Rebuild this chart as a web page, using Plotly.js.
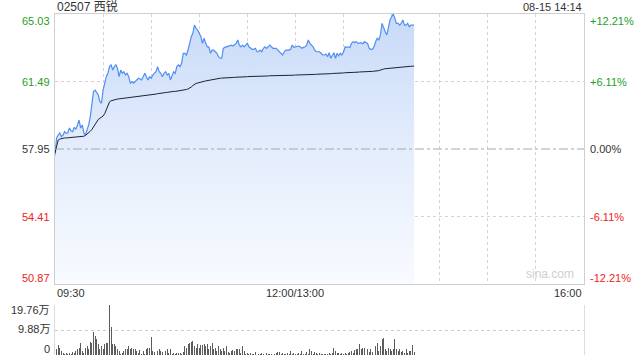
<!DOCTYPE html>
<html>
<head>
<meta charset="utf-8">
<script src="https://cdn.plot.ly/plotly-3.0.1.min.js"></script>
<style>html,body{margin:0;padding:0;background:#fff;}#chart{width:640px;height:360px;}</style>
</head>
<body>
<div id="chart"></div>
<script>
// ---- data ----
const stockTitle = "02507 西锐";
const stamp = "08-15 14:14";
const prevClose = 57.95;
const priceTicks = [65.03, 61.49, 57.95, 54.41, 50.87];
const pctTicks = ["+12.21%", "+6.11%", "0.00%", "-6.11%", "-12.21%"];
const timeTickVals = [0, 150, 330];           // minutes of trading since 09:30
const timeTickText = ["09:30", "12:00/13:00", "16:00"];
const volTicks = [19.76, 9.88, 0];
const volTickText = ["19.76万", "9.88万", "0"];

// one value per trading minute from 09:30 to 14:14
const price = [
57.63,58.53,58.68,58.79,58.60,58.68,58.86,58.77,58.80,59.05,
58.91,58.86,59.09,58.98,59.21,59.47,59.05,59.21,58.79,58.68,
58.95,59.21,59.64,60.35,60.96,61.04,60.90,60.78,60.43,60.35,
61.04,61.40,61.74,61.92,62.27,62.36,62.09,62.27,62.36,62.18,
61.74,62.09,61.92,62.00,61.83,61.92,61.74,61.40,61.48,61.40,
61.48,61.57,61.66,61.62,61.57,61.74,61.92,61.74,61.57,61.74,
61.66,61.83,61.92,62.00,62.27,62.00,61.92,61.74,61.92,62.00,
61.83,61.92,61.57,61.83,62.00,61.92,62.27,62.36,62.27,62.44,
62.97,62.97,62.88,63.14,63.58,63.84,64.02,64.45,64.28,64.19,
64.02,63.84,63.49,63.76,63.49,63.31,63.31,62.97,63.14,63.14,
63.05,62.97,62.79,62.71,62.71,63.23,63.28,63.31,63.33,63.35,
63.40,63.35,63.40,63.49,63.67,63.40,63.31,63.40,63.31,63.40,
63.49,63.31,63.23,63.18,63.18,63.23,63.05,63.05,63.14,63.05,
63.23,63.31,63.23,63.31,63.40,63.31,63.23,63.23,63.23,63.14,
63.05,62.97,62.88,63.05,63.14,63.14,63.14,63.18,63.40,63.28,
63.31,63.31,63.35,63.31,63.23,63.28,63.31,63.40,63.67,63.49,
63.40,63.31,63.14,63.05,63.05,63.05,62.97,62.88,62.88,62.93,
62.79,63.00,62.71,62.88,63.00,62.71,62.97,62.83,62.97,62.88,
63.05,63.31,63.28,63.31,63.28,63.49,63.58,63.53,63.58,63.49,
63.53,63.53,63.46,63.58,63.53,63.49,63.23,63.18,63.18,63.31,
63.58,63.76,63.67,63.93,64.54,64.28,64.10,63.93,64.28,64.72,
64.89,65.03,64.80,64.54,64.54,64.45,64.54,64.72,64.45,64.45,
64.54,64.36,64.45,64.45,64.45
];
const avgPrice = [
57.74,58.11,58.42,58.47,58.50,58.52,58.53,58.53,58.54,58.54,
58.55,58.55,58.56,58.56,58.57,58.58,58.59,58.60,58.62,58.66,
58.72,58.80,58.88,58.97,59.12,59.25,59.42,59.50,59.56,59.62,
59.68,59.80,60.04,60.30,60.42,60.48,60.51,60.54,60.56,60.57,
60.58,60.59,60.60,60.60,60.61,60.62,60.63,60.64,60.66,60.67,
60.69,60.70,60.71,60.72,60.73,60.74,60.75,60.76,60.77,60.78,
60.79,60.80,60.81,60.83,60.85,60.87,60.88,60.89,60.90,60.91,
60.92,60.94,60.95,60.96,60.97,60.97,60.98,60.99,61.00,61.00,
61.01,61.04,61.07,61.10,61.13,61.20,61.28,61.36,61.39,61.41,
61.44,61.46,61.48,61.50,61.52,61.54,61.55,61.57,61.59,61.61,
61.62,61.63,61.65,61.66,61.67,61.67,61.68,61.68,61.69,61.69,
61.70,61.70,61.71,61.71,61.72,61.72,61.73,61.73,61.74,61.74,
61.74,61.75,61.75,61.75,61.76,61.76,61.76,61.77,61.77,61.77,
61.77,61.78,61.78,61.78,61.79,61.79,61.79,61.79,61.80,61.80,
61.80,61.80,61.81,61.81,61.81,61.81,61.82,61.82,61.82,61.82,
61.83,61.83,61.83,61.83,61.84,61.84,61.84,61.85,61.85,61.85,
61.86,61.86,61.86,61.87,61.87,61.87,61.88,61.88,61.88,61.89,
61.89,61.90,61.90,61.91,61.91,61.92,61.92,61.93,61.93,61.94,
61.94,61.95,61.95,61.95,61.96,61.96,61.97,61.97,61.98,61.98,
61.99,61.99,62.00,62.00,62.01,62.01,62.02,62.02,62.02,62.03,
62.03,62.04,62.06,62.09,62.13,62.14,62.16,62.17,62.18,62.20,
62.21,62.22,62.23,62.24,62.24,62.25,62.26,62.26,62.27,62.27,
62.28,62.28,62.29,62.29,62.30
];
// volume in 万 shares per minute
const volume = [
2.8,2.2,3.8,2.8,1.5,0.8,0.5,0.6,0.5,0.8,
0.5,1.1,0.8,1.5,2.2,2.8,4.9,1.5,0.8,2.8,
3.5,2.2,5.3,4.9,8.9,7.6,6.2,4.2,2.2,3.5,
2.2,4.2,4.9,4.9,19.76,11.0,4.2,4.2,3.5,2.2,
1.5,0.5,0.8,1.5,2.2,2.4,3.5,2.4,2.8,2.2,
2.4,1.5,0.8,1.9,0.5,1.5,0.5,2.2,2.8,2.8,
7.3,1.5,1.1,2.8,1.5,2.2,1.5,1.1,2.2,1.5,
2.4,0.8,2.2,0.5,0.8,0.5,0.8,0.6,0.8,0.5,
1.1,3.5,2.8,4.2,4.9,5.1,5.5,3.5,2.8,4.2,
2.8,3.8,3.8,4.2,3.5,4.2,2.2,3.5,4.9,2.2,
2.8,1.5,3.5,2.2,1.5,2.8,1.5,3.5,1.2,0.8,
1.5,1.9,1.5,2.2,2.2,2.4,0.8,3.5,1.5,0.5,
0.8,0.5,0.8,0.5,0.5,1.1,0.5,0.3,0.5,0.8,
0.5,0.5,0.8,0.3,0.5,0.5,0.8,0.5,0.8,1.1,
1.1,0.5,0.8,0.5,0.5,0.8,0.5,1.5,0.5,0.8,
0.5,0.3,0.8,0.5,1.5,0.5,0.5,1.1,0.5,2.2,
1.5,0.5,1.1,0.8,0.5,0.8,0.5,0.5,0.5,0.3,
0.5,0.8,0.5,0.8,2.6,1.5,0.8,0.8,0.5,0.8,
0.5,0.8,0.5,0.8,1.1,1.5,0.8,1.9,2.2,2.2,
4.2,2.2,2.8,2.8,1.5,2.2,1.1,2.4,1.1,2.2,
3.5,4.9,1.5,3.5,6.5,6.9,2.2,1.5,2.8,2.2,
1.5,2.2,6.2,2.4,1.5,2.2,1.1,1.5,0.8,2.2,
0.8,1.5,1.5,4.0,1.1
];
const minutes = price.map((_, i) => i);
const floorLine = price.map(() => priceTicks[4]);

// ---- chart ----
const FONT = "Liberation Sans, Arial, Noto Sans CJK SC, sans-serif";
const green = "#1f9e1f", red = "#ee2222", dark = "#333333";
const labelColor = v => v > prevClose ? green : (v < prevClose ? red : dark);

const traces = [
  {
    x: minutes, y: floorLine, type: "scatter", mode: "lines",
    line: {width: 0, color: "rgba(0,0,0,0)"}, xaxis: "x", yaxis: "y", hoverinfo: "skip"
  },
  {
    x: minutes, y: price, type: "scatter", mode: "lines",
    line: {color: "#4f8ef2", width: 1.2},
    fill: "tonexty",
    fillgradient: {type: "vertical", start: priceTicks[4], stop: priceTicks[0],
      colorscale: [[0, "#f8fbff"], [0.5, "#e4edfc"], [1, "#c8daf8"]]},
    xaxis: "x", yaxis: "y", hoverinfo: "skip"
  },
  {
    x: minutes, y: avgPrice, type: "scatter", mode: "lines",
    line: {color: "#1c2433", width: 1},
    xaxis: "x", yaxis: "y", hoverinfo: "skip"
  },
  {
    x: minutes, y: volume, type: "bar", width: 0.6,
    marker: {color: "#5c5c5c", line: {width: 0}},
    xaxis: "x2", yaxis: "y2", hoverinfo: "skip"
  }
];

const mainBottom = 71 / 341;
const volTop = 50 / 341;

const annotations = [];
priceTicks.forEach((v, i) => {
  const shift = i === 0 ? -7 : (i === priceTicks.length - 1 ? 6 : 0);
  annotations.push({xref: "paper", yref: "y", x: 0, y: v, xanchor: "right", yanchor: "middle",
    xshift: -3, yshift: shift, text: v.toFixed(2), showarrow: false,
    font: {family: FONT, size: 11, color: labelColor(v)}});
  annotations.push({xref: "paper", yref: "y", x: 1, y: v, xanchor: "left", yanchor: "middle",
    xshift: 4, yshift: shift, text: pctTicks[i], showarrow: false,
    font: {family: FONT, size: 11, color: labelColor(v)}});
});
timeTickVals.forEach((t, i) => {
  annotations.push({xref: "x", yref: "paper", x: t, y: (355 - 293) / 341, yanchor: "middle",
    xanchor: i === 0 ? "left" : (i === timeTickVals.length - 1 ? "right" : "center"),
    text: timeTickText[i], showarrow: false, font: {family: FONT, size: 11, color: dark}});
});
volTicks.forEach((v, i) => {
  const shift = i === 0 ? -5 : (i === volTicks.length - 1 ? 6 : 1);
  annotations.push({xref: "paper", yref: "y2", x: 0, y: v, xanchor: "right", yanchor: "middle",
    xshift: -3, yshift: shift, text: volTickText[i], showarrow: false,
    font: {family: FONT, size: 11, color: dark}});
});
annotations.push({xref: "paper", yref: "paper", x: 0, y: (355 - 7) / 341, xanchor: "left", yanchor: "middle",
  text: stockTitle, showarrow: false, font: {family: FONT, size: 12, color: dark}});
annotations.push({xref: "paper", yref: "paper", x: 1, y: (355 - 7) / 341, xanchor: "right", yanchor: "middle",
  text: stamp, showarrow: false, font: {family: FONT, size: 11, color: dark}});
annotations.push({xref: "paper", yref: "y", x: 0.985, y: priceTicks[4], xanchor: "right", yanchor: "bottom",
  yshift: 1, text: "sina.com", showarrow: false, font: {family: FONT, size: 12, color: "#cfcfcf"}});

const layout = {
  width: 640, height: 360,
  margin: {l: 55, r: 56, t: 14, b: 5, pad: 0},
  paper_bgcolor: "#ffffff", plot_bgcolor: "#ffffff",
  showlegend: false,
  xaxis: {domain: [0, 1], range: [0, 330], tickmode: "linear", tick0: 0, dtick: 30,
    showticklabels: false, ticks: "", showgrid: true, gridcolor: "#d4d4d4", griddash: "dot", gridwidth: 1,
    zeroline: false, showline: true, mirror: true, linecolor: "#cfcfcf", linewidth: 1, anchor: "y", fixedrange: true},
  yaxis: {domain: [mainBottom, 1], range: [priceTicks[4], priceTicks[0]], tickvals: [priceTicks[1], priceTicks[3]],
    showticklabels: false, ticks: "", showgrid: true, gridcolor: "#d4d4d4", griddash: "dot", gridwidth: 1,
    zeroline: false, showline: true, mirror: true, linecolor: "#cfcfcf", linewidth: 1, anchor: "x", fixedrange: true},
  xaxis2: {domain: [0, 1], range: [0, 330], showticklabels: false, ticks: "", showgrid: false,
    zeroline: false, showline: false, anchor: "y2", fixedrange: true},
  yaxis2: {domain: [0, volTop], range: [0, volTicks[0]], tickvals: [volTicks[1], volTicks[0]],
    showticklabels: false, ticks: "", showgrid: true, gridcolor: "#cccccc", griddash: "dot", gridwidth: 1,
    zeroline: false, showline: true, mirror: true, linecolor: "#dddddd", linewidth: 1, anchor: "x2", fixedrange: true},
  bargap: 0,
  shapes: [
    {type: "line", xref: "paper", x0: 0, x1: 1, yref: "y", y0: prevClose, y1: prevClose,
     line: {color: "#a8a8a8", width: 1, dash: "dashdot"}, layer: "above"}
  ],
  annotations: annotations
};

Plotly.newPlot("chart", traces, layout, {staticPlot: true, displayModeBar: false});
</script>
</body>
</html>
